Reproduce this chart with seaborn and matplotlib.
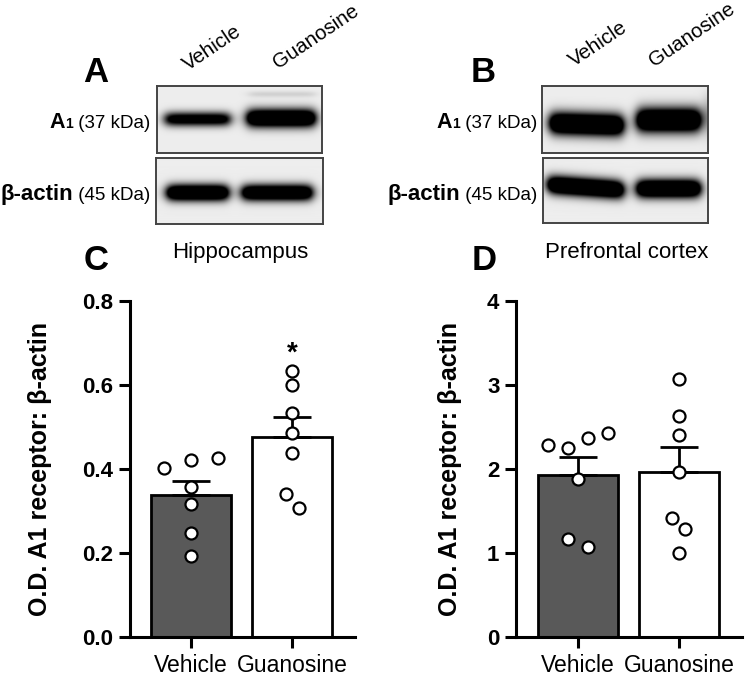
import numpy as np
import pandas as pd
import matplotlib
matplotlib.use("Agg")
import matplotlib.pyplot as plt
import seaborn as sns

# ---------------- data ----------------
groups = ["Vehicle", "Guanosine"]
hippo_vehicle = [0.402, 0.421, 0.426, 0.357, 0.317, 0.248, 0.193]
hippo_guanosine = [0.633, 0.600, 0.533, 0.486, 0.438, 0.340, 0.307]
pfc_vehicle = [2.29, 2.25, 2.37, 2.43, 1.88, 1.17, 1.07]
pfc_guanosine = [3.07, 2.63, 2.40, 1.96, 1.42, 1.29, 1.00]
hippo_ticks = [0.0, 0.2, 0.4, 0.6, 0.8]
pfc_ticks = [0, 1, 2, 3, 4]
hippo_tick_labels = ["0.0", "0.2", "0.4", "0.6", "0.8"]
pfc_tick_labels = ["0", "1", "2", "3", "4"]

# horizontal spread of dots (layout only)
hippo_veh_dx = [-0.27, 0, 0.27, 0, 0, 0, 0]
hippo_gua_dx = [0, 0, 0, 0, 0, -0.06, 0.07]
pfc_veh_dx = [-0.30, -0.10, 0.10, 0.30, 0, -0.10, 0.10]
pfc_gua_dx = [0, 0, 0, 0, -0.07, 0.06, 0]

W, H = 749, 677
sns.set_style("ticks")
plt.rcParams["font.family"] = ["Liberation Sans", "DejaVu Sans"]
plt.rcParams["axes.linewidth"] = 2.2
for k in ("text.color", "axes.labelcolor", "xtick.color", "ytick.color", "axes.edgecolor"):
    plt.rcParams[k] = "black"

fig = plt.figure(figsize=(W / 100, H / 100), dpi=100)


def rect(x0, y0, x1, y1):
    return [x0 / W, 1 - y1 / H, (x1 - x0) / W, (y1 - y0) / H]


DARK = "#595959"


def bar_panel(box, veh, gua, veh_dx, gua_dx, ticks, ticklabels, ylim, xlim, star=None):
    ax = fig.add_axes(rect(*box))
    df = pd.DataFrame({
        "group": [groups[0]] * len(veh) + [groups[1]] * len(gua),
        "value": list(veh) + list(gua),
    })
    sns.barplot(data=df, x="group", y="value", hue="group", order=groups,
                hue_order=groups, palette=[DARK, "white"], errorbar=None,
                edgecolor="black", linewidth=2.0, width=0.8, legend=False,
                ax=ax, zorder=2)
    stats = df.groupby("group", sort=False)["value"].agg(["mean", "sem"]).reindex(groups)
    ax.errorbar([0, 1], stats["mean"], yerr=[np.zeros(2), stats["sem"]], fmt="none",
                ecolor="black", elinewidth=2.0, capsize=13.5, capthick=2.0, zorder=3)
    xs = [0 + d for d in veh_dx] + [1 + d for d in gua_dx]
    sns.scatterplot(x=xs, y=df["value"], ax=ax, s=75, facecolor="white",
                    edgecolor="black", linewidth=1.6, zorder=4, legend=False)
    ax.set_xlim(*xlim)
    ax.set_ylim(*ylim)
    ax.set_yticks(ticks)
    ax.set_yticklabels(ticklabels, fontweight="bold", fontsize=16)
    ax.set_xticks([0, 1])
    ax.set_xticklabels(groups, fontsize=16.5)
    ax.tick_params(axis="both", width=2.2, length=8, pad=4, colors="black")
    ax.set_xlabel("")
    ax.set_ylabel("O.D. A1 receptor: β-actin", fontweight="bold", fontsize=18)
    sns.despine(ax=ax)
    for s in ("left", "bottom"):
        ax.spines[s].set_linewidth(2.2)
        ax.spines[s].set_color("black")
    if star is not None:
        ax.text(1, star, "*", ha="center", va="center", fontsize=20, fontweight="bold")
    return ax


axC = bar_panel((130, 301, 355, 637), hippo_vehicle, hippo_guanosine,
                hippo_veh_dx, hippo_gua_dx, hippo_ticks, hippo_tick_labels,
                (0, 0.8), (-0.604, 1.624), star=0.675)
axC.yaxis.set_label_coords(-0.347, 0.5)
axD = bar_panel((516, 301, 742, 637), pfc_vehicle, pfc_guanosine,
                pfc_veh_dx, pfc_gua_dx, pfc_ticks, pfc_tick_labels,
                (0, 4), (-0.614, 1.624))
axD.yaxis.set_label_coords(-0.239, 0.5)


# ---------------- western blot images ----------------
def blot(box, bands):
    x0, y0, x1, y1 = box
    w, h = x1 - x0, y1 - y0
    ax = fig.add_axes(rect(*box))
    yy, xx = np.mgrid[0:h * 3, 0:w * 3] / 3.0
    dark = np.zeros_like(xx)
    for bx0, bx1, yc, th, amp, slope in bands:
        sx = 1 / (1 + np.exp(-(xx - bx0) / 3.0)) * 1 / (1 + np.exp((xx - bx1) / 3.0))
        yc_x = yc + slope * (xx - bx0)
        sy = np.exp(-((yy - yc_x) / th) ** 2)
        dark += amp * sx * sy
    img = 0.93 - 0.93 * np.clip(dark, 0, 1)
    ax.imshow(img, cmap="gray", vmin=0, vmax=1, extent=[0, w, h, 0],
              aspect="auto", interpolation="bilinear")
    ax.set_xticks([])
    ax.set_yticks([])
    for s in ax.spines.values():
        s.set_visible(True)
        s.set_color("#444444")
        s.set_linewidth(1.4)
    return ax


blot((157, 86, 322, 153), [(8, 73, 33, 7, 1.3, 0), (90, 158, 32, 9, 1.8, 0),
                           (92, 158, 8, 3, 0.12, 0)])
blot((156, 158, 323, 224), [(11, 72, 35, 8, 1.8, 0), (86, 156, 35, 8, 1.7, 0)])
blot((542, 86, 708, 153), [(8, 81, 37, 11, 1.9, 0.03), (95, 158, 34, 12, 1.9, 0),
                           (163, 168, 30, 18, 0.6, 0)])
blot((543, 158, 708, 223), [(5, 80, 27, 9, 1.9, 0.07), (94, 157, 31, 9, 1.9, 0)])

# ---------------- text ----------------
fig.canvas.draw()
renderer = fig.canvas.get_renderer()


def rich_right(x_right, y_base, pieces):
    x = x_right
    for txt, size, weight in reversed(pieces):
        t = fig.text(x / W, 1 - y_base / H, txt, ha="right", va="baseline",
                     fontsize=size, fontweight=weight)
        bb = t.get_window_extent(renderer=renderer)
        x = bb.x0


for xr in (150, 537):
    rich_right(xr, 128, [("A", 15.5, "bold"), ("1", 10, "bold"), (" (37 kDa)", 13.5, "normal")])
    rich_right(xr, 200, [("β-actin", 16, "bold"), (" (45 kDa)", 13.5, "normal")])

lane_labels = [("Vehicle", 188, 71), ("Guanosine", 278, 69),
               ("Vehicle", 574, 67), ("Guanosine", 654, 67)]
for txt, x, y in lane_labels:
    fig.text(x / W, 1 - y / H, txt, rotation=34, rotation_mode="anchor",
             ha="left", va="baseline", fontsize=14.8)

for letter, x, y in [("A", 96, 72), ("B", 483, 72), ("C", 96, 261), ("D", 484, 261)]:
    fig.text(x / W, 1 - y / H, letter, ha="center", va="center",
             fontsize=25, fontweight="bold")

fig.text(240 / W, 1 - 253 / H, "Hippocampus", ha="center", va="center", fontsize=16)
fig.text(627 / W, 1 - 253 / H, "Prefrontal cortex", ha="center", va="center", fontsize=16)

fig.savefig("out.png", dpi=100)
